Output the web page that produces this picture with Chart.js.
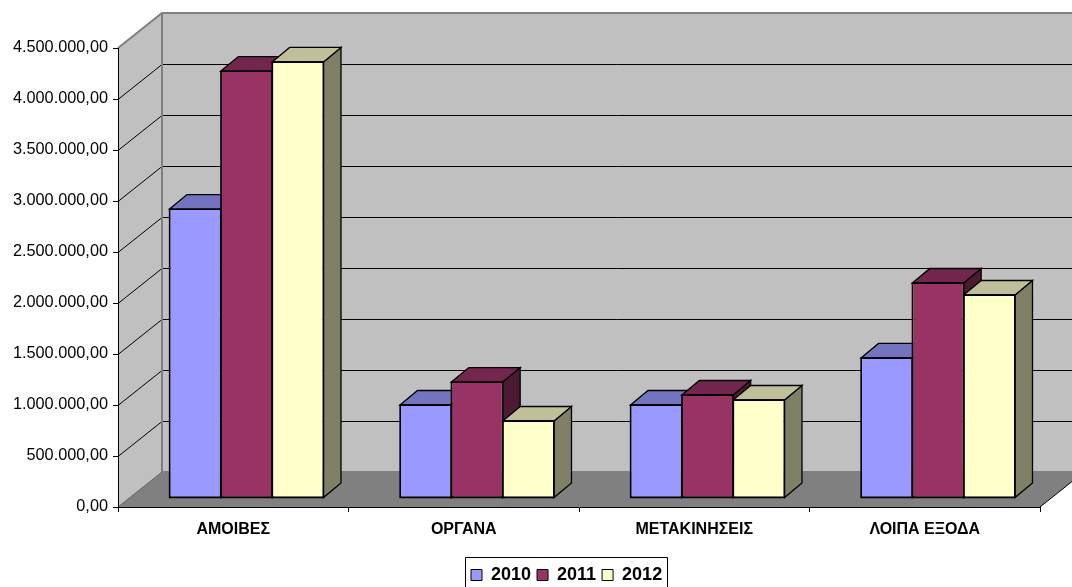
<!DOCTYPE html>
<html>
<head>
<meta charset="utf-8">
<style>
  html, body { margin: 0; padding: 0; background: #fff; overflow: hidden; }
  canvas { display: block; }
</style>
</head>
<body>
<canvas id="chart" width="1072" height="587"></canvas>
<script src="https://cdn.jsdelivr.net/npm/chart.js@4"></script>
<script>
const categories = ['ΑΜΟΙΒΕΣ', 'ΟΡΓΑΝΑ', 'ΜΕΤΑΚΙΝΗΣΕΙΣ', 'ΛΟΙΠΑ ΕΞΟΔΑ'];
const values2010 = [2833000, 912000, 912000, 1373000];
const values2011 = [4186000, 1137000, 1010000, 2108000];
const values2012 = [4275000, 755000, 961000, 1990000];

const FONT = '"Liberation Sans", Arial, sans-serif';
const WALL = { dx: 44, dy: -35 };      // back wall offset from the axis plane
const BAR_POS = { dx: 13.25, dy: -9 }; // bars stand a little behind the axis plane
const BAR_DEPTH = { dx: 17.5, dy: -14.5 };
const LEGEND_BOX = { left: 465, right: 667, top: 557 };

function poly(ctx, pts, fill, stroke, width) {
  ctx.beginPath();
  pts.forEach((p, i) => i ? ctx.lineTo(p[0], p[1]) : ctx.moveTo(p[0], p[1]));
  ctx.closePath();
  if (fill) { ctx.fillStyle = fill; ctx.fill(); }
  if (stroke) { ctx.strokeStyle = stroke; ctx.lineWidth = width || 1; ctx.stroke(); }
}

/* walls, floor and the depth gridlines */
const wallsPlugin = {
  id: 'walls',
  beforeDraw(chart) {
    const { ctx, chartArea: a, scales } = chart;
    const bx = a.left + WALL.dx, dy = WALL.dy, far = a.right + WALL.dx;
    ctx.save();
    poly(ctx, [[a.left, a.top], [bx, a.top + dy], [bx, a.bottom + dy], [a.left, a.bottom]], '#C0C0C0');
    poly(ctx, [[bx, a.top + dy], [far, a.top + dy], [far, a.bottom + dy], [bx, a.bottom + dy]], '#C0C0C0');
    poly(ctx, [[a.left, a.bottom], [a.right, a.bottom], [far, a.bottom + dy], [bx, a.bottom + dy]], '#808080');

    ctx.strokeStyle = '#000';
    ctx.lineWidth = 1;
    scales.y.ticks.forEach(t => {
      if (t.value === 0 || t.value === scales.y.max) return;
      const y = Math.round(scales.y.getPixelForValue(t.value)) + 0.5;
      ctx.beginPath();
      ctx.moveTo(a.left, y);
      ctx.lineTo(bx, y + dy);
      ctx.lineTo(far, y + dy);
      ctx.stroke();
    });

    // wall edges
    ctx.strokeStyle = '#808080';
    ctx.lineWidth = 2;
    ctx.beginPath();
    ctx.moveTo(a.left, a.top);
    ctx.lineTo(bx, a.top + dy);
    ctx.lineTo(far, a.top + dy);
    ctx.moveTo(bx, a.top + dy);
    ctx.lineTo(bx, a.bottom + dy);
    ctx.lineTo(far, a.bottom + dy);
    ctx.stroke();

    // floor edges towards the viewer
    ctx.strokeStyle = '#000';
    ctx.lineWidth = 1;
    ctx.beginPath();
    ctx.moveTo(a.right, a.bottom);
    ctx.lineTo(far, a.bottom + dy);
    ctx.stroke();
    ctx.strokeStyle = '#606060';
    ctx.beginPath();
    ctx.moveTo(a.left, a.bottom);
    ctx.lineTo(bx, a.bottom + dy);
    ctx.stroke();
    ctx.restore();
  }
};

/* top and side faces, the library draws the front faces on top of them */
const barFacesPlugin = {
  id: 'barFaces',
  beforeDatasetsDraw(chart) {
    const { ctx } = chart;
    ctx.save();
    ctx.translate(BAR_POS.dx, BAR_POS.dy);
    const dx = BAR_DEPTH.dx, dy = BAR_DEPTH.dy;
    categories.forEach((c, i) => {
      chart.data.datasets.forEach((ds, d) => {
        const el = chart.getDatasetMeta(d).data[i];
        const l = el.x - el.width / 2, r = el.x + el.width / 2;
        poly(ctx, [[r, el.y], [r + dx, el.y + dy], [r + dx, el.base + dy], [r, el.base]], ds.sideColor, '#000', 1.3);
        poly(ctx, [[l, el.y], [l + dx, el.y + dy], [r + dx, el.y + dy], [r, el.y]], ds.topColor, '#000', 1.3);
      });
    });
  },
  afterDatasetsDraw(chart) {
    const { ctx } = chart;
    // crisp outline over the front faces
    chart.data.datasets.forEach((ds, d) => {
      chart.getDatasetMeta(d).data.forEach(el => {
        const l = el.x - el.width / 2, r = el.x + el.width / 2;
        poly(ctx, [[l, el.y], [r, el.y], [r, el.base], [l, el.base]], null, '#000', 1.3);
      });
    });
    ctx.restore();
  }
};

/* legend sits in its own small frame, not across the whole chart */
const legendFramePlugin = {
  id: 'legendFrame',
  afterLayout(chart) {
    const l = chart.legend;
    l.left = LEGEND_BOX.left;
    l.right = LEGEND_BOX.right + 30; // room so the last item stays on the line
    l.top = LEGEND_BOX.top + 3;
  },
  afterDraw(chart) {
    const { ctx } = chart;
    ctx.save();
    ctx.strokeStyle = '#000';
    ctx.lineWidth = 1;
    ctx.beginPath();
    ctx.moveTo(LEGEND_BOX.left + 0.5, chart.height);
    ctx.lineTo(LEGEND_BOX.left + 0.5, LEGEND_BOX.top + 0.5);
    ctx.lineTo(LEGEND_BOX.right + 0.5, LEGEND_BOX.top + 0.5);
    ctx.lineTo(LEGEND_BOX.right + 0.5, chart.height);
    ctx.stroke();
    ctx.restore();
  }
};

function makeSet(label, data, color, topColor, sideColor) {
  return {
    label, data, topColor, sideColor,
    backgroundColor: color,
    borderColor: '#000',
    borderWidth: 1,
    borderSkipped: false,
    clip: false,
    categoryPercentage: 0.668,
    barPercentage: 1
  };
}

new Chart(document.getElementById('chart'), {
  type: 'bar',
  data: {
    labels: categories,
    datasets: [
      makeSet('2010', values2010, '#9999FF', '#7373BF', '#4D4D80'),
      makeSet('2011', values2011, '#993366', '#73264D', '#4D1A33'),
      makeSet('2012', values2012, '#FFFFCC', '#BFBF99', '#808066')
    ]
  },
  options: {
    responsive: false,
    animation: false,
    layout: { padding: { left: 0, right: 32, top: 48, bottom: 0 } },
    plugins: {
      tooltip: { enabled: false },
      legend: {
        position: 'bottom',
        align: 'start',
        onClick: null,
        labels: {
          color: '#000',
          font: { family: FONT, size: 18, weight: 'bold' },
          boxWidth: 11,
          boxHeight: 11,
          padding: 6
        }
      }
    },
    scales: {
      x: {
        afterFit(scale) { scale.height = 46; },
        grid: { drawOnChartArea: false, color: '#000', tickLength: 5 },
        border: { color: '#000' },
        ticks: {
          color: '#000',
          maxRotation: 0,
          padding: 8,
          font: { family: FONT, size: 16, weight: 'bold' }
        }
      },
      y: {
        min: 0,
        max: 4500000,
        afterFit(scale) { scale.width = 118; },
        grid: { drawOnChartArea: false, color: '#000', tickLength: 5 },
        border: { color: '#000' },
        ticks: {
          stepSize: 500000,
          color: '#000',
          padding: 5,
          font: { family: FONT, size: 16.3 },
          callback: v => v.toLocaleString('de-DE', { minimumFractionDigits: 2, maximumFractionDigits: 2 })
        }
      }
    }
  },
  plugins: [wallsPlugin, barFacesPlugin, legendFramePlugin]
});
</script>
</body>
</html>
